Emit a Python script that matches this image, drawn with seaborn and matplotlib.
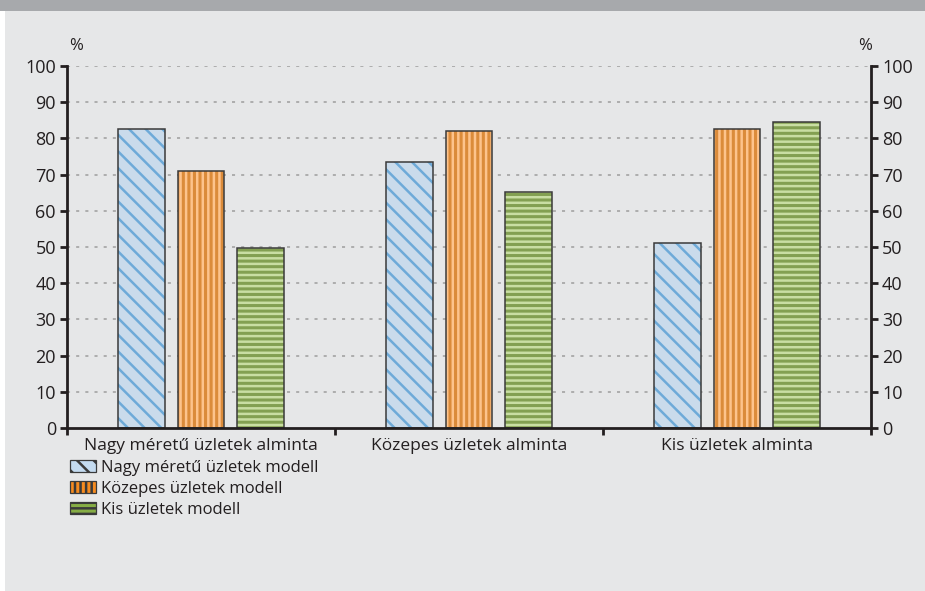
import pandas as pd
import numpy as np
import matplotlib
matplotlib.use("Agg")
import matplotlib.pyplot as plt
import seaborn as sns
from matplotlib.patches import Rectangle, Patch

# Data
groups = ["Nagy méretű üzletek alminta", "Közepes üzletek alminta", "Kis üzletek alminta"]
models = ["Nagy méretű üzletek modell", "Közepes üzletek modell", "Kis üzletek modell"]
nagy_modell = [82.5, 73.4, 51.1]
kozepes_modell = [71.0, 82.1, 82.7]
kis_modell = [49.8, 65.2, 84.5]
y_ticks = [0, 10, 20, 30, 40, 50, 60, 70, 80, 90, 100]

df = pd.DataFrame({
    "alminta": groups * 3,
    "modell": [m for m in models for _ in groups],
    "ertek": nagy_modell + kozepes_modell + kis_modell,
})

bg = "#e6e7e8"
fills = ["#c4dbf0", "#f68b1f", "#86ad45"]
hatch_cols = ["#6eaad8", "#fdc38c", "#c9dea3"]
hatches = ["\\\\", "|||", "---"]
edge = "#3a3a3a"
txt = "#231f20"

sns.set_style("white")
plt.rcParams["font.family"] = ["Open Sans", "DejaVu Sans"]
plt.rcParams["hatch.linewidth"] = 1.8

fig = plt.figure(figsize=(9.25, 5.91), dpi=100)
fig.patch.set_facecolor(bg)
ax = fig.add_axes([67 / 925, 1 - 428 / 591, (871 - 67) / 925, (428 - 66) / 591])
ax.set_facecolor(bg)

sns.barplot(data=df, x="alminta", y="ertek", hue="modell", order=groups, hue_order=models,
            palette=fills, width=0.67, gap=0.215, legend=False, ax=ax, zorder=3)

# hatch the bars, then draw a dark outline on top
for cont, hc, h in zip(ax.containers, hatch_cols, hatches):
    for bar in cont:
        bar.set_edgecolor(hc)
        bar.set_hatch(h)
        bar.set_linewidth(0)
        outline = Rectangle(bar.get_xy(), bar.get_width(), bar.get_height(), fill=False,
                            edgecolor=edge, linewidth=1.1, zorder=4)
        ax.add_patch(outline)

ax.set_xlim(-0.5, 2.5)
ax.set_ylim(0, 100)
ax.set_yticks(y_ticks)
ax.set_xlabel("")
ax.set_ylabel("")
ax.grid(False)
for y in y_ticks[1:]:
    ax.axhline(y, color="#9d9d9d", linestyle=(0, (2, 4)), linewidth=1.1, zorder=1)

ax.spines["top"].set_visible(False)
for s in ["left", "right", "bottom"]:
    ax.spines[s].set_color(txt)
    ax.spines[s].set_linewidth(2)
    ax.spines[s].set_zorder(5)

ax.tick_params(axis="y", left=True, direction="out", length=5, width=2, color=txt,
               labelsize=13, labelcolor=txt, pad=3)
ax.tick_params(axis="x", length=0, labelsize=12.5, labelcolor=txt, pad=7)
ax.set_xticks([-0.5, 0.5, 1.5, 2.5], minor=True)
ax.tick_params(axis="x", which="minor", bottom=True, direction="out", length=5, width=2, color=txt)

ax2 = ax.twinx()
ax2.set_ylim(0, 100)
ax2.set_yticks(y_ticks)
for s in ["top", "left", "bottom", "right"]:
    ax2.spines[s].set_visible(False)
ax2.tick_params(axis="y", right=True, direction="out", length=5, width=2, color=txt,
                labelsize=13, labelcolor=txt, pad=3)

fig.text(76 / 925, 1 - 46 / 591, "%", ha="center", va="center", fontsize=12, color=txt)
fig.text(865 / 925, 1 - 46 / 591, "%", ha="center", va="center", fontsize=12, color=txt)

# top banner and left white strip
fig.add_artist(Rectangle((0, 1 - 11 / 591), 1, 11 / 591, transform=fig.transFigure,
                         facecolor="#a7a9ac", edgecolor="none"))
fig.add_artist(Rectangle((0, 0), 5 / 925, 1 - 11 / 591, transform=fig.transFigure,
                         facecolor="white", edgecolor="none"))

handles = [Patch(facecolor=f, edgecolor=hc, hatch=h, linewidth=0) for f, hc, h in zip(fills, hatch_cols, hatches)]
leg = fig.legend(handles, models, loc="upper left", bbox_to_anchor=(70 / 925, 1 - 460 / 591),
                 frameon=False, fontsize=12, handlelength=1.55, handleheight=0.75,
                 labelspacing=0.3, handletextpad=0.3, borderpad=0, borderaxespad=0,
                 labelcolor=txt)
for p in leg.get_patches():
    p.set_edgecolor(edge)
    p.set_linewidth(0.9)

plt.savefig("out.png", dpi=100, facecolor=fig.get_facecolor())
